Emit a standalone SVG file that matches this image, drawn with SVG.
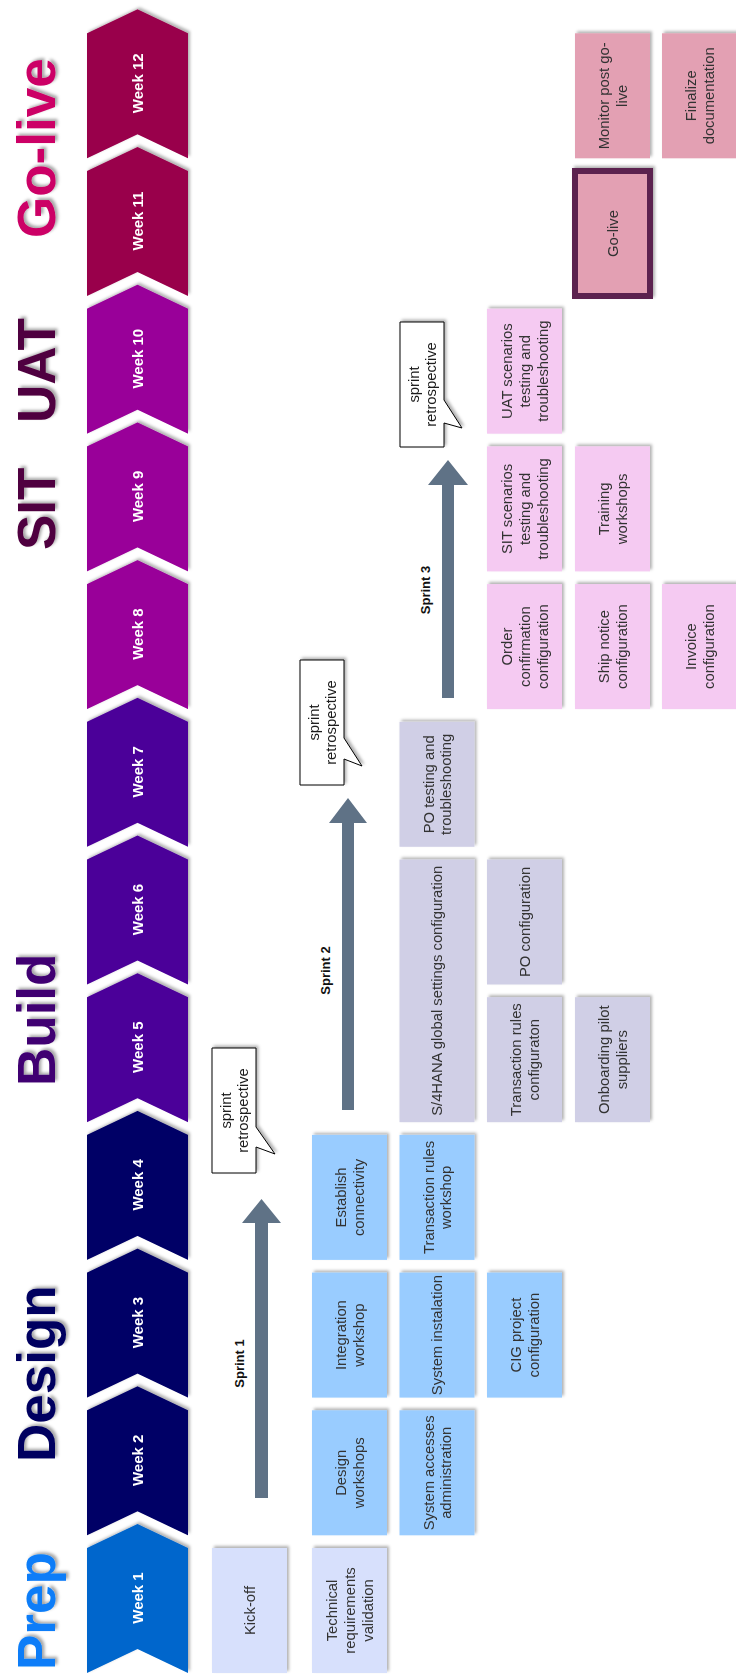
<svg xmlns="http://www.w3.org/2000/svg" width="736" height="1676" viewBox="0 0 736 1676">
  <style>
    .phase { font-family: "Liberation Sans", Arial, sans-serif; font-weight: bold; font-size: 53px; }
    .week { font-family: "Liberation Sans", Arial, sans-serif; font-weight: bold; font-size: 15px; fill: #ffffff; text-anchor: middle; }
    .task { font-family: "Liberation Sans", Arial, sans-serif; font-size: 14.8px; fill: #333333; text-anchor: middle; }
    .sprint { font-family: "Liberation Sans", Arial, sans-serif; font-weight: bold; font-size: 13px; fill: #111111; text-anchor: middle; }
    .bubble-text { font-family: "Liberation Sans", Arial, sans-serif; font-size: 14.8px; fill: #1a1a1a; text-anchor: middle; }
    .prep { fill: #D7E0FC; }
    .design { fill: #99CCFF; }
    .build { fill: #D0CFE6; }
    .test { fill: #F5CAF2; }
    .live { fill: #E3A0B3; }
    .bubble { fill: #ffffff; stroke: #000000; stroke-width: 1; }
    .arrow { fill: #5F7286; }
  </style>
  <defs>
    <filter id="shadow" x="-10%" y="-10%" width="125%" height="130%">
      <feDropShadow dx="2" dy="2" stdDeviation="1.6" flood-color="#000000" flood-opacity="0.3"/>
    </filter>
    <filter id="tshadow" x="-5%" y="-10%" width="115%" height="135%">
      <feDropShadow dx="2" dy="2.5" stdDeviation="1.5" flood-color="#000000" flood-opacity="0.35"/>
    </filter>
  </defs>

  <!-- timeline laid out left-to-right, turned to read bottom-to-top -->
  <g transform="translate(0,1676) rotate(-90)">

    <!-- phase headings -->
    <g id="phases" filter="url(#tshadow)">
      <text class="phase" x="6" y="55" fill="#0A7DF8">Prep</text>
      <text class="phase" x="214" y="55" fill="#000060">Design</text>
      <text class="phase" x="590" y="55" fill="#400072">Build</text>
      <text class="phase" x="1126" y="55" fill="#50063F">SIT</text>
      <text class="phase" x="1253" y="55" fill="#50063F">UAT</text>
      <text class="phase" x="1438" y="55" fill="#CC0066">Go-live</text>
    </g>

    <!-- week chevrons -->
    <g id="weeks" filter="url(#shadow)">
      <g id="week-1"><path d="M3,87 H128 L152,137.5 L128,188 H3 L27,137.5 Z" fill="#0066CC"/><text class="week" x="78" y="143">Week 1</text></g>
      <g id="week-2"><path d="M140.7,87 H265.7 L289.7,137.5 L265.7,188 H140.7 L164.7,137.5 Z" fill="#000066"/><text class="week" x="215.7" y="143">Week 2</text></g>
      <g id="week-3"><path d="M278.4,87 H403.4 L427.4,137.5 L403.4,188 H278.4 L302.4,137.5 Z" fill="#000066"/><text class="week" x="353.4" y="143">Week 3</text></g>
      <g id="week-4"><path d="M416.1,87 H541.1 L565.1,137.5 L541.1,188 H416.1 L440.1,137.5 Z" fill="#000066"/><text class="week" x="491.1" y="143">Week 4</text></g>
      <g id="week-5"><path d="M553.8,87 H678.8 L702.8,137.5 L678.8,188 H553.8 L577.8,137.5 Z" fill="#4C0099"/><text class="week" x="628.8" y="143">Week 5</text></g>
      <g id="week-6"><path d="M691.5,87 H816.5 L840.5,137.5 L816.5,188 H691.5 L715.5,137.5 Z" fill="#4C0099"/><text class="week" x="766.5" y="143">Week 6</text></g>
      <g id="week-7"><path d="M829.2,87 H954.2 L978.2,137.5 L954.2,188 H829.2 L853.2,137.5 Z" fill="#4C0099"/><text class="week" x="904.2" y="143">Week 7</text></g>
      <g id="week-8"><path d="M966.9,87 H1091.9 L1115.9,137.5 L1091.9,188 H966.9 L990.9,137.5 Z" fill="#990099"/><text class="week" x="1041.9" y="143">Week 8</text></g>
      <g id="week-9"><path d="M1104.6,87 H1229.6 L1253.6,137.5 L1229.6,188 H1104.6 L1128.6,137.5 Z" fill="#990099"/><text class="week" x="1179.6" y="143">Week 9</text></g>
      <g id="week-10"><path d="M1242.3,87 H1367.3 L1391.3,137.5 L1367.3,188 H1242.3 L1266.3,137.5 Z" fill="#990099"/><text class="week" x="1317.3" y="143">Week 10</text></g>
      <g id="week-11"><path d="M1380,87 H1505 L1529,137.5 L1505,188 H1380 L1404,137.5 Z" fill="#99004C"/><text class="week" x="1455" y="143">Week 11</text></g>
      <g id="week-12"><path d="M1517.7,87 H1642.7 L1666.7,137.5 L1642.7,188 H1517.7 L1541.7,137.5 Z" fill="#99004C"/><text class="week" x="1592.7" y="143">Week 12</text></g>
    </g>

    <!-- sprint arrows -->
    <g id="connectors">
      <path id="sprint-1-arrow" class="arrow" d="M178,255 H453 V242 L477,261.5 L453,281 V268 H178 Z"/>
      <path id="sprint-2-arrow" class="arrow" d="M566,342 H853 V329 L878,348 L853,367 V354 H566 Z"/>
      <path id="sprint-3-arrow" class="arrow" d="M978,442 H1191 V428 L1216,448 L1191,468 V454 H978 Z"/>
      <text class="sprint" x="312.5" y="244">Sprint 1</text>
      <text class="sprint" x="705.5" y="330">Sprint 2</text>
      <text class="sprint" x="1086" y="430">Sprint 3</text>
    </g>

    <!-- sprint retrospective callouts -->
    <g id="retro-1" filter="url(#shadow)">
      <path class="bubble" d="M503,212 H628 V256 H549 L522,275 L529,256 H503 Z"/>
      <text class="bubble-text" x="565.5" y="230.5">sprint</text>
      <text class="bubble-text" x="565.5" y="248.2">retrospective</text>
    </g>
    <g id="retro-2" filter="url(#shadow)">
      <path class="bubble" d="M891,300 H1016 V344 H938 L910,362 L917,344 H891 Z"/>
      <text class="bubble-text" x="953.5" y="318.5">sprint</text>
      <text class="bubble-text" x="953.5" y="336.2">retrospective</text>
    </g>
    <g id="retro-3" filter="url(#shadow)">
      <path class="bubble" d="M1229,400 H1354 V444 H1276 L1248,462 L1253,444 H1229 Z"/>
      <text class="bubble-text" x="1291.5" y="418.5">sprint</text>
      <text class="bubble-text" x="1291.5" y="436.2">retrospective</text>
    </g>

    <!-- Prep tasks -->
    <g id="kick-off" filter="url(#shadow)">
      <rect class="prep" x="3" y="212" width="125" height="75"/>
      <text class="task" x="65.5" y="254.8">Kick-off</text>
    </g>
    <g id="technical-requirements" filter="url(#shadow)">
      <rect class="prep" x="3" y="312" width="125" height="75"/>
      <text class="task" x="65.5" y="337.1">Technical</text>
      <text class="task" x="65.5" y="354.8">requirements</text>
      <text class="task" x="65.5" y="372.5">validation</text>
    </g>

    <!-- Design tasks -->
    <g id="design-workshops" filter="url(#shadow)">
      <rect class="design" x="140.7" y="312" width="125" height="75"/>
      <text class="task" x="203.2" y="346">Design</text>
      <text class="task" x="203.2" y="363.7">workshops</text>
    </g>
    <g id="system-accesses" filter="url(#shadow)">
      <rect class="design" x="140.7" y="399.5" width="125" height="75"/>
      <text class="task" x="203.2" y="433.5">System accesses</text>
      <text class="task" x="203.2" y="451.2">administration</text>
    </g>
    <g id="integration-workshop" filter="url(#shadow)">
      <rect class="design" x="278.4" y="312" width="125" height="75"/>
      <text class="task" x="340.9" y="346">Integration</text>
      <text class="task" x="340.9" y="363.7">workshop</text>
    </g>
    <g id="system-installation" filter="url(#shadow)">
      <rect class="design" x="278.4" y="399.5" width="125" height="75"/>
      <text class="task" x="340.9" y="442.3">System instalation</text>
    </g>
    <g id="cig-project" filter="url(#shadow)">
      <rect class="design" x="278.4" y="487" width="125" height="75"/>
      <text class="task" x="340.9" y="521">CIG project</text>
      <text class="task" x="340.9" y="538.7">configuration</text>
    </g>
    <g id="establish-connectivity" filter="url(#shadow)">
      <rect class="design" x="416.1" y="312" width="125" height="75"/>
      <text class="task" x="478.6" y="346">Establish</text>
      <text class="task" x="478.6" y="363.7">connectivity</text>
    </g>
    <g id="transaction-rules-workshop" filter="url(#shadow)">
      <rect class="design" x="416.1" y="399.5" width="125" height="75"/>
      <text class="task" x="478.6" y="433.5">Transaction rules</text>
      <text class="task" x="478.6" y="451.2">workshop</text>
    </g>

    <!-- Build tasks -->
    <g id="s4hana-settings" filter="url(#shadow)">
      <rect class="build" x="553.8" y="399.5" width="262.7" height="75"/>
      <text class="task" x="685.2" y="442.3">S/4HANA global settings configuration</text>
    </g>
    <g id="transaction-rules-config" filter="url(#shadow)">
      <rect class="build" x="553.8" y="487" width="125" height="75"/>
      <text class="task" x="616.3" y="521">Transaction rules</text>
      <text class="task" x="616.3" y="538.7">configuraton</text>
    </g>
    <g id="onboarding-suppliers" filter="url(#shadow)">
      <rect class="build" x="553.8" y="575" width="125" height="75"/>
      <text class="task" x="616.3" y="609">Onboarding pilot</text>
      <text class="task" x="616.3" y="626.7">suppliers</text>
    </g>
    <g id="po-configuration" filter="url(#shadow)">
      <rect class="build" x="691.5" y="487" width="125" height="75"/>
      <text class="task" x="754" y="529.8">PO configuration</text>
    </g>
    <g id="po-testing" filter="url(#shadow)">
      <rect class="build" x="829.2" y="399.5" width="125" height="75"/>
      <text class="task" x="891.7" y="433.5">PO testing and</text>
      <text class="task" x="891.7" y="451.2">troubleshooting</text>
    </g>

    <!-- SIT / UAT tasks -->
    <g id="order-confirmation" filter="url(#shadow)">
      <rect class="test" x="966.9" y="487" width="125" height="75"/>
      <text class="task" x="1029.4" y="512.1">Order</text>
      <text class="task" x="1029.4" y="529.8">confirmation</text>
      <text class="task" x="1029.4" y="547.5">configuration</text>
    </g>
    <g id="ship-notice" filter="url(#shadow)">
      <rect class="test" x="966.9" y="575" width="125" height="75"/>
      <text class="task" x="1029.4" y="609">Ship notice</text>
      <text class="task" x="1029.4" y="626.7">configuration</text>
    </g>
    <g id="invoice" filter="url(#shadow)">
      <rect class="test" x="966.9" y="662" width="125" height="75"/>
      <text class="task" x="1029.4" y="696">Invoice</text>
      <text class="task" x="1029.4" y="713.7">configuration</text>
    </g>
    <g id="sit-scenarios" filter="url(#shadow)">
      <rect class="test" x="1104.6" y="487" width="125" height="75"/>
      <text class="task" x="1167.1" y="512.1">SIT scenarios</text>
      <text class="task" x="1167.1" y="529.8">testing and</text>
      <text class="task" x="1167.1" y="547.5">troubleshooting</text>
    </g>
    <g id="training-workshops" filter="url(#shadow)">
      <rect class="test" x="1104.6" y="575" width="125" height="75"/>
      <text class="task" x="1167.1" y="609">Training</text>
      <text class="task" x="1167.1" y="626.7">workshops</text>
    </g>
    <g id="uat-scenarios" filter="url(#shadow)">
      <rect class="test" x="1242.3" y="487" width="125" height="75"/>
      <text class="task" x="1304.8" y="512.1">UAT scenarios</text>
      <text class="task" x="1304.8" y="529.8">testing and</text>
      <text class="task" x="1304.8" y="547.5">troubleshooting</text>
    </g>

    <!-- Go-live tasks -->
    <g id="go-live" filter="url(#shadow)">
      <rect class="live" x="1380" y="575" width="125" height="75" stroke="#5C2450" stroke-width="6"/>
      <text class="task" x="1442.5" y="617.8">Go-live</text>
    </g>
    <g id="monitor-post-go-live" filter="url(#shadow)">
      <rect class="live" x="1517.7" y="575" width="125" height="75"/>
      <text class="task" x="1580.2" y="609">Monitor post go-</text>
      <text class="task" x="1580.2" y="626.7">live</text>
    </g>
    <g id="finalize-documentation" filter="url(#shadow)">
      <rect class="live" x="1517.7" y="662" width="125" height="75"/>
      <text class="task" x="1580.2" y="696">Finalize</text>
      <text class="task" x="1580.2" y="713.7">documentation</text>
    </g>
  </g>
</svg>
